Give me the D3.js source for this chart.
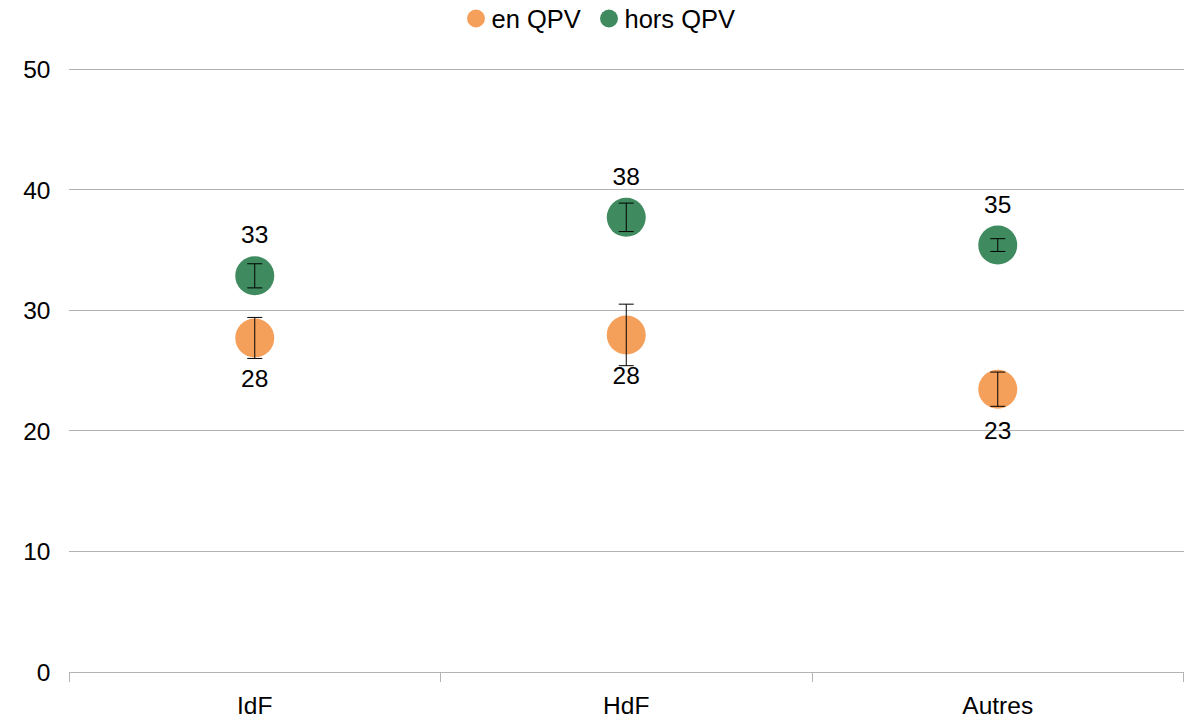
<!DOCTYPE html>
<html><head><meta charset="utf-8">
<script src="https://cdn.jsdelivr.net/npm/d3@7"></script>
<style>body{margin:0;background:#fff;}svg{display:block;font-family:"Liberation Sans",Arial,sans-serif;}</style>
</head><body><svg id="c" width="1190" height="720"></svg>
<script>
const categories = ["IdF", "HdF", "Autres"];
const seriesNames = ["en QPV", "hors QPV"];
const enQPV = [27.7, 27.95, 23.45];
const enQPVErr = [1.7, 2.55, 1.42];
const horsQPV = [32.85, 37.7, 35.4];
const horsQPVErr = [1.0, 1.18, 0.53];
const yTicks = [0, 10, 20, 30, 40, 50];
const colors = ["#F5A05A", "#3F8B5F"];

const FS = 24.5;
const svg = d3.select("#c");
const m = {l: 69, r: 1183.5, t: 69, b: 672};
const x = d3.scaleBand().domain(categories).range([m.l, m.r]);
const y = d3.scaleLinear().domain([0, 50]).range([m.b, m.t]);

// grid
svg.append("g").selectAll("line").data(yTicks.filter(d => d > 0)).join("line")
  .attr("x1", m.l).attr("x2", m.r).attr("y1", d => y(d)).attr("y2", d => y(d))
  .attr("stroke", "#b3b3b3").attr("stroke-width", 1).attr("shape-rendering", "crispEdges");

// y labels
svg.append("g").selectAll("text").data(yTicks).join("text")
  .attr("x", 50.5).attr("y", d => y(d) + 9).attr("text-anchor", "end")
  .attr("font-size", FS).attr("fill", "#000").text(d => d);

// x axis
const xAxis = d3.axisBottom(x).tickSize(0).tickPadding(0);
const gx = svg.append("g").attr("transform", `translate(0,${y(0)})`).call(xAxis);
gx.select(".domain").remove();
gx.selectAll("text").attr("font-size", FS).attr("fill", "#000").attr("dy", null).attr("y", 41.5)
  .attr("font-family", "Liberation Sans, Arial, sans-serif");
svg.append("line").attr("x1", m.l).attr("x2", m.r).attr("y1", y(0)).attr("y2", y(0))
  .attr("stroke", "#b3b3b3").attr("shape-rendering", "crispEdges");
const bounds = categories.map(c => x(c)).concat([x(categories[categories.length-1]) + x.bandwidth()]);
svg.append("g").selectAll("line").data(bounds).join("line")
  .attr("x1", d => d).attr("x2", d => d).attr("y1", y(0)).attr("y2", y(0) + 10)
  .attr("stroke", "#b3b3b3").attr("shape-rendering", "crispEdges");

const series = [
  {name: seriesNames[0], vals: enQPV, err: enQPVErr, color: colors[0], labelOff: 49.5},
  {name: seriesNames[1], vals: horsQPV, err: horsQPVErr, color: colors[1], labelOff: -32.5}
];
const cx = c => x(c) + x.bandwidth() / 2;
series.forEach(s => {
  const g = svg.append("g");
  const data = categories.map((c, i) => ({c, v: s.vals[i], e: s.err[i]}));
  g.selectAll("circle").data(data).join("circle")
    .attr("cx", d => cx(d.c)).attr("cy", d => y(d.v)).attr("r", 19.5).attr("fill", s.color);
  const eb = g.selectAll("g.eb").data(data).join("g");
  eb.append("line").attr("x1", d => cx(d.c)).attr("x2", d => cx(d.c))
    .attr("y1", d => y(d.v + d.e)).attr("y2", d => y(d.v - d.e)).attr("stroke", "#000");
  [1, -1].forEach(sg => {
    eb.append("line").attr("x1", d => cx(d.c) - 7.5).attr("x2", d => cx(d.c) + 7.5)
      .attr("y1", d => y(d.v + sg * d.e)).attr("y2", d => y(d.v + sg * d.e)).attr("stroke", "#000");
  });
  g.selectAll("text").data(data).join("text")
    .attr("x", d => cx(d.c)).attr("y", d => y(d.v) + s.labelOff)
    .attr("text-anchor", "middle").attr("font-size", FS).attr("fill", "#000")
    .text(d => Math.round(d.v));
});

// legend
const leg = [{n: seriesNames[0], c: colors[0], x: 476}, {n: seriesNames[1], c: colors[1], x: 609}];
const lg = svg.append("g").selectAll("g").data(leg).join("g");
lg.append("circle").attr("cx", d => d.x).attr("cy", 18.5).attr("r", 9).attr("fill", d => d.c);
lg.append("text").attr("x", d => d.x + 15.5).attr("y", 27.5)
  .attr("font-size", 25.5).attr("fill", "#000").text(d => d.n);
</script></body></html>
